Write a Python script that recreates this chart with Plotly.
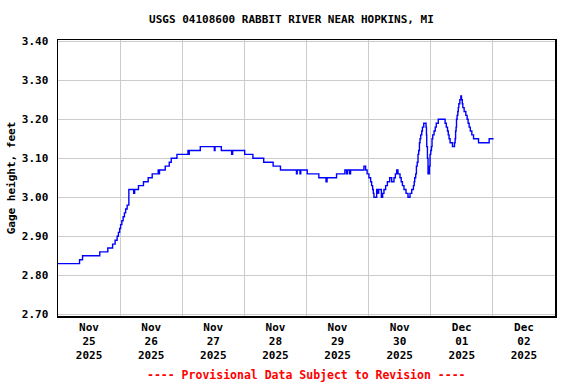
import pandas as pd
import plotly.graph_objects as go

# Hours since 2025-11-25 00:00 (local) and gage height (feet)
hours = [0, 8.32, 9.48, 16.14, 19.24, 21.10, 22.06, 22.84, 23.34, 23.81, 24.19, 24.66,
         25.16, 25.66, 26.13, 26.71, 27.37, 29.23, 29.61, 31.08, 33.02, 34.84, 36.39,
         38.71, 38.98, 39.21, 41.42, 42.97, 43.74, 45.95, 50.21, 50.44, 50.71, 54.97,
         60.39, 60.66, 63.10, 67.08, 67.47, 72.12, 75.29, 79.47, 83.11, 85.94, 92.13,
         92.40, 93.48, 93.79, 96.27, 100.76, 103.55, 103.94, 107.61, 110.83, 111.48,
         111.87, 112.65, 113.03, 118.18, 118.84, 119.42, 120.12, 120.77, 121.16, 121.55,
         121.82, 122.05, 123.10, 123.60, 123.87, 124.92, 125.42, 125.92, 126.58, 127.24,
         128.13, 128.90, 129.79, 130.34, 130.84, 131.34, 132.12, 132.58, 133.05, 133.66,
         134.44, 135.21, 135.99, 136.65, 137.30, 137.61, 137.81, 138.19, 138.46, 138.77,
         139.08, 139.35, 139.63, 139.86, 140.13, 140.52, 140.79, 141.29, 142.18, 142.34,
         142.45, 142.72, 142.95, 143.50, 143.73, 144.00, 144.27, 144.50, 144.77, 145.28,
         145.74, 146.13, 146.90, 149.54, 150.00, 150.47, 150.77, 151.08, 151.47, 152.40,
         153.17, 153.41, 153.60, 153.79, 153.95, 154.18, 154.45, 154.65, 154.84, 155.23,
         155.61, 155.88, 156.19, 156.39, 156.89, 157.55, 158.05, 158.44, 158.83, 159.29,
         159.87, 160.53, 162.46, 166.57, 168.27]
gage_ft = [2.83, 2.84, 2.85, 2.86, 2.87, 2.88, 2.89, 2.90, 2.91, 2.92, 2.93, 2.94,
           2.95, 2.96, 2.97, 2.98, 3.02, 3.01, 3.02, 3.03, 3.04, 3.05, 3.06,
           3.07, 3.06, 3.07, 3.08, 3.09, 3.10, 3.11, 3.12, 3.11, 3.12, 3.13,
           3.12, 3.13, 3.12, 3.11, 3.12, 3.11, 3.10, 3.09, 3.08, 3.07, 3.06,
           3.07, 3.06, 3.07, 3.06, 3.05, 3.04, 3.05, 3.06, 3.07, 3.06,
           3.07, 3.06, 3.07, 3.08, 3.07, 3.06, 3.05, 3.04, 3.03, 3.02,
           3.01, 3.00, 3.02, 3.01, 3.02, 3.00, 3.01, 3.02, 3.03, 3.04,
           3.05, 3.04, 3.05, 3.06, 3.07, 3.06, 3.05, 3.04, 3.03, 3.02,
           3.01, 3.00, 3.01, 3.02, 3.03, 3.04, 3.05, 3.06, 3.08, 3.09,
           3.11, 3.12, 3.14, 3.15, 3.16, 3.17, 3.18, 3.19, 3.18, 3.16,
           3.13, 3.10, 3.06, 3.08, 3.11, 3.12, 3.13, 3.15, 3.16, 3.17,
           3.18, 3.19, 3.20, 3.19, 3.18, 3.17, 3.16, 3.15, 3.14, 3.13,
           3.14, 3.15, 3.17, 3.18, 3.20, 3.21, 3.22, 3.23, 3.24, 3.25,
           3.26, 3.25, 3.24, 3.23, 3.22, 3.21, 3.20, 3.19, 3.18, 3.17,
           3.16, 3.15, 3.14, 3.15, 3.15]

start = pd.Timestamp("2025-11-25 00:00")
times = start + pd.to_timedelta(hours, unit="h")

title_text = "USGS 04108600 RABBIT RIVER NEAR HOPKINS, MI"
y_title = "Gage height, feet"
footnote = "---- Provisional Data Subject to Revision ----"
y_ticks = [2.70, 2.80, 2.90, 3.00, 3.10, 3.20, 3.30, 3.40]

FONT = "DejaVu Sans Mono"

fig = go.Figure()
fig.add_trace(go.Scatter(x=times, y=gage_ft, mode="lines",
                         line=dict(color="#0000FF", width=1.4, shape="hv"),
                         showlegend=False, hoverinfo="skip"))

fig.update_layout(
    width=576, height=384,
    margin=dict(l=58, r=21, t=40, b=68, autoexpand=False),
    paper_bgcolor="white", plot_bgcolor="white",
    font=dict(family=FONT, size=11, color="black"),
    title=dict(text="<b>" + title_text + "</b>", x=0.506, xanchor="center",
               y=1 - 19 / 384, yanchor="middle", font=dict(size=11)),
    xaxis=dict(
        range=["2025-11-25 00:00", "2025-12-03 00:00"],
        type="date", tick0="2025-11-25", dtick=86400000,
        ticklabelmode="period", tickformat="<b>%b</b><br><b>%d</b><br><b>%Y</b>",
        showgrid=True, gridcolor="#CCCCCC", gridwidth=1,
        showline=True, mirror=True, linecolor="black", linewidth=1.5,
        ticks="", zeroline=False, fixedrange=True, automargin=False,
    ),
    yaxis=dict(
        range=[2.6956, 3.4033],
        tickvals=y_ticks, ticktext=["<b>%.2f</b>" % v for v in y_ticks],
        showgrid=True, gridcolor="#CCCCCC", gridwidth=1,
        showline=True, mirror=True, linecolor="black", linewidth=1.5,
        ticks="", zeroline=False, ticklabelstandoff=6, automargin=False,
        fixedrange=True,
        title=dict(text="<b>" + y_title + "</b>", standoff=4, font=dict(size=11)),
    ),
)

fig.add_annotation(text="<b>" + footnote + "</b>", xref="paper", yref="paper",
                   x=0.5, y=-(375 - 316) / 276, xanchor="center", yanchor="middle",
                   showarrow=False, font=dict(family=FONT, size=11.5, color="#FF0000"))

fig.write_html("out.html", config={"displayModeBar": False, "staticPlot": True},
               post_script="document.body.style.margin='0';document.body.style.overflow='hidden';")
